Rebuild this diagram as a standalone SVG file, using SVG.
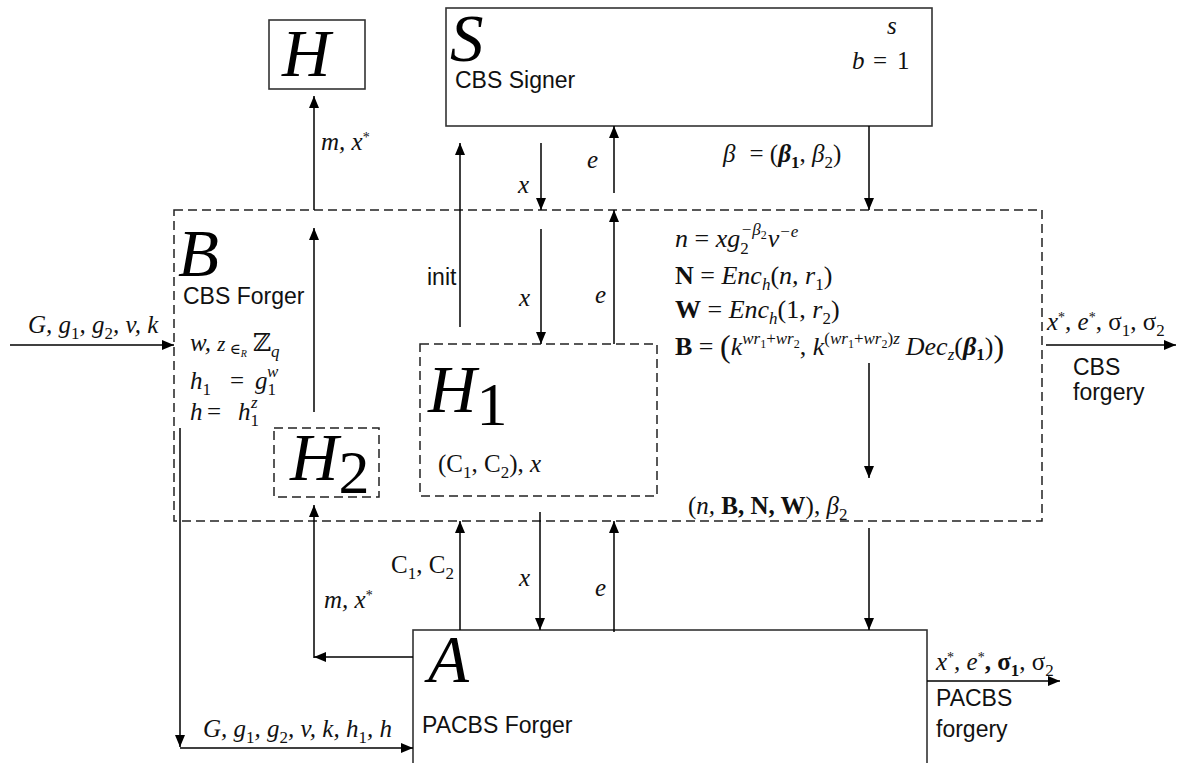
<svg xmlns="http://www.w3.org/2000/svg" width="1178" height="763" viewBox="0 0 1178 763">
<defs>
<marker id="ah" viewBox="0 0 12 10" refX="12" refY="5" markerWidth="12" markerHeight="10" orient="auto" markerUnits="userSpaceOnUse"><path d="M0,0 L12,5 L0,10 z" fill="#000"/></marker>
<style>
.box{fill:#fff;stroke:#333;stroke-width:1.6}
.dash{fill:none;stroke:#222;stroke-width:1.5;stroke-dasharray:9 5}
.ar{fill:none;stroke:#000;stroke-width:1.5;marker-end:url(#ah)}
.mi{font-family:"Liberation Serif","DejaVu Serif",serif;font-style:italic;font-size:25px;fill:#111}
.rf{font-size:26px}
.up{font-style:normal}
.bd{font-weight:bold;font-style:normal}
.sb{font-size:17px}
.ss{font-size:12px}
.st{font-size:14px;font-style:normal}
.big{font-family:"Liberation Serif",serif;font-style:italic;font-size:67px;fill:#000}
.dg{font-style:normal;font-size:62px}
.sans{font-family:"Liberation Sans",Arial,sans-serif;font-size:23px;fill:#111}
.ds{font-family:"DejaVu Serif",serif;font-style:normal}
</style>
</defs>
<rect width="1178" height="763" fill="#fff"/>

<g id="node-B">
<rect class="dash" x="174" y="210" width="868" height="311"/>
<text class="big" x="178" y="276" font-size="64">B</text>
<text class="sans" x="183" y="304">CBS Forger</text>
<text class="mi" x="190" y="351">w, <tspan font-size="21">z</tspan><tspan class="up" font-size="15" dx="4" dy="3">∈</tspan><tspan font-size="10" dy="3">R</tspan><tspan class="ds" font-size="25" dx="6" dy="-6">ℤ</tspan><tspan class="sb" dy="6">q</tspan></text>
<text class="mi" x="190" y="389">h<tspan class="sb up" dy="6">1</tspan><tspan class="up" x="230" dy="-6">=</tspan><tspan x="255">g</tspan><tspan class="sb up" dy="6">1</tspan><tspan class="sb" dx="-9" dy="-18">w</tspan></text>
<text class="mi" x="190" y="420">h<tspan class="up" x="207">=</tspan><tspan x="238">h</tspan><tspan class="sb up" dy="6">1</tspan><tspan class="sb" dx="-8" dy="-18">z</tspan></text>
<text class="mi rf" x="675" y="247">n<tspan class="up"> = </tspan>xg<tspan class="sb up" dy="7">2</tspan><tspan class="sb" dx="-8" dy="-19">−β</tspan><tspan class="ss up" dy="4">2</tspan><tspan dx="1" dy="8">v</tspan><tspan class="sb" dy="-10">−e</tspan></text>
<text class="mi rf" x="675" y="284"><tspan class="bd">N</tspan><tspan class="up"> = </tspan>Enc<tspan class="sb" dy="6">h</tspan><tspan class="up" dy="-6">(</tspan>n, r<tspan class="sb up" dy="6">1</tspan><tspan class="up" dy="-6">)</tspan></text>
<text class="mi rf" x="675" y="318"><tspan class="bd">W</tspan><tspan class="up"> = </tspan>Enc<tspan class="sb" dy="6">h</tspan><tspan class="up" dy="-6">(1, </tspan>r<tspan class="sb up" dy="6">2</tspan><tspan class="up" dy="-6">)</tspan></text>
<text class="mi rf" x="675" y="355"><tspan class="bd">B</tspan><tspan class="up"> = </tspan><tspan class="up" font-size="32" dy="2">(</tspan><tspan dy="-2">k</tspan><tspan class="sb" dy="-11">wr</tspan><tspan class="ss up" dy="4">1</tspan><tspan class="sb up" dy="-4">+</tspan><tspan class="sb">wr</tspan><tspan class="ss up" dy="4">2</tspan><tspan class="up" dy="7">, </tspan>k<tspan class="sb up" dy="-11">(</tspan><tspan class="sb">wr</tspan><tspan class="ss up" dy="4">1</tspan><tspan class="sb up" dy="-4">+</tspan><tspan class="sb">wr</tspan><tspan class="ss up" dy="4">2</tspan><tspan class="sb up" dy="-4">)</tspan><tspan class="sb">z</tspan><tspan dx="6" dy="11">Dec</tspan><tspan class="sb" dy="5">z</tspan><tspan class="up" dy="-5">(</tspan><tspan font-weight="bold">β</tspan><tspan class="sb bd" dy="5">1</tspan><tspan class="up" dy="-5">)</tspan><tspan class="up" font-size="32" dy="2">)</tspan></text>
<text class="mi" x="688" y="514"><tspan class="up">(</tspan>n, <tspan class="bd">B, N, W</tspan><tspan class="up">), </tspan>β<tspan class="sb up" dy="6">2</tspan></text>
</g>

<g id="node-H">
<rect class="box" x="269" y="20" width="96" height="69"/>
<text class="big" x="282" y="76">H</text>
</g>

<g id="node-S">
<rect class="box" x="446" y="8" width="486" height="118"/>
<text class="big" x="450" y="61">S</text>
<text class="sans" x="455" y="88">CBS Signer</text>
<text class="mi" x="887" y="34" font-size="28">s</text>
<text class="mi" x="852" y="69" font-size="32">b<tspan class="up" x="873">=</tspan><tspan class="up" x="897">1</tspan></text>
</g>

<g id="node-H1">
<rect class="dash" x="420" y="344" width="237" height="152"/>
<text class="big" x="428" y="412">H<tspan class="dg" dy="13">1</tspan></text>
<text class="mi" x="438" y="472"><tspan class="up">(C</tspan><tspan class="sb up" dy="6">1</tspan><tspan class="up" dy="-6">, C</tspan><tspan class="sb up" dy="6">2</tspan><tspan class="up" dy="-6">), </tspan>x</text>
</g>

<g id="node-H2">
<rect class="dash" x="274" y="428" width="105" height="69"/>
<text class="big" x="290" y="480">H<tspan class="dg" dy="13">2</tspan></text>
</g>

<g id="node-A">
<rect class="box" x="413" y="630" width="514" height="150"/>
<text class="big" x="428" y="682">A</text>
<text class="sans" x="422" y="733">PACBS Forger</text>
</g>

<g id="connectors">
<line class="ar" x1="314" y1="210" x2="314" y2="96"/>
<line class="ar" x1="314" y1="412" x2="314" y2="228"/>
<line class="ar" x1="413" y1="657" x2="314" y2="657"/>
<line class="ar" x1="314" y1="658" x2="314" y2="505"/>
<line class="ar" x1="460" y1="327" x2="460" y2="143"/>
<line class="ar" x1="541" y1="143" x2="541" y2="210"/>
<line class="ar" x1="614" y1="193" x2="614" y2="126"/>
<line class="ar" x1="869" y1="126" x2="869" y2="210"/>
<line class="ar" x1="541" y1="229" x2="541" y2="344"/>
<line class="ar" x1="614" y1="344" x2="614" y2="210"/>
<line class="ar" x1="869" y1="363" x2="869" y2="478"/>
<line class="ar" x1="869" y1="528" x2="869" y2="630"/>
<line class="ar" x1="460" y1="630" x2="460" y2="521"/>
<line class="ar" x1="540" y1="512" x2="540" y2="630"/>
<line class="ar" x1="614" y1="632" x2="614" y2="521"/>
<line class="ar" x1="10" y1="345" x2="174" y2="345"/>
<line class="ar" x1="180" y1="428" x2="180" y2="747"/>
<line class="ar" x1="180" y1="748" x2="413" y2="748"/>
<line class="ar" x1="1046" y1="345" x2="1176" y2="345"/>
<line class="ar" x1="927" y1="681" x2="1060" y2="681"/>

<text class="mi" x="321" y="150">m, x<tspan class="st" dy="-8">*</tspan></text>
<text class="mi" x="324" y="608">m, x<tspan class="st" dy="-8">*</tspan></text>
<text class="sans" x="427" y="285">init</text>
<text class="mi" x="518" y="193">x</text>
<text class="mi" x="587" y="168">e</text>
<text class="mi" x="519" y="306">x</text>
<text class="mi" x="595" y="303">e</text>
<text class="mi" x="519" y="586">x</text>
<text class="mi" x="595" y="596">e</text>
<text class="mi" x="723" y="162">β<tspan class="up" dx="14">= (</tspan><tspan font-weight="bold">β</tspan><tspan class="sb bd" dy="6">1</tspan><tspan class="up" dy="-6">, </tspan>β<tspan class="sb up" dy="6">2</tspan><tspan class="up" dy="-6">)</tspan></text>
<text class="mi" x="391" y="573"><tspan class="up">C</tspan><tspan class="sb up" dy="6">1</tspan><tspan class="up" dy="-6">, C</tspan><tspan class="sb up" dy="6">2</tspan></text>
<text class="mi" x="28" y="333">G, g<tspan class="sb up" dy="6">1</tspan><tspan dy="-6">, g</tspan><tspan class="sb up" dy="6">2</tspan><tspan dy="-6">, v, k</tspan></text>
<text class="mi" x="203" y="737">G, g<tspan class="sb up" dy="6">1</tspan><tspan dy="-6">, g</tspan><tspan class="sb up" dy="6">2</tspan><tspan dy="-6">, v, k, h</tspan><tspan class="sb up" dy="6">1</tspan><tspan dy="-6">, h</tspan></text>
<text class="mi" x="1047" y="330">x<tspan class="st" dy="-8">*</tspan><tspan dy="8">, e</tspan><tspan class="st" dy="-8">*</tspan><tspan class="up" dy="8">, σ</tspan><tspan class="sb up" dy="6">1</tspan><tspan class="up" dy="-6">, σ</tspan><tspan class="sb up" dy="6">2</tspan></text>
<text class="sans" x="1073" y="375">CBS</text>
<text class="sans" x="1073" y="400">forgery</text>
<text class="mi" x="936" y="670">x<tspan class="st" dy="-8">*</tspan><tspan dy="8">, e</tspan><tspan class="st" dy="-8">*</tspan><tspan class="up bd" dy="8">, σ</tspan><tspan class="sb bd" dy="6">1</tspan><tspan class="up" dy="-6">, σ</tspan><tspan class="sb up" dy="6">2</tspan></text>
<text class="sans" x="936" y="706">PACBS</text>
<text class="sans" x="936" y="737">forgery</text>
</g>
</svg>
